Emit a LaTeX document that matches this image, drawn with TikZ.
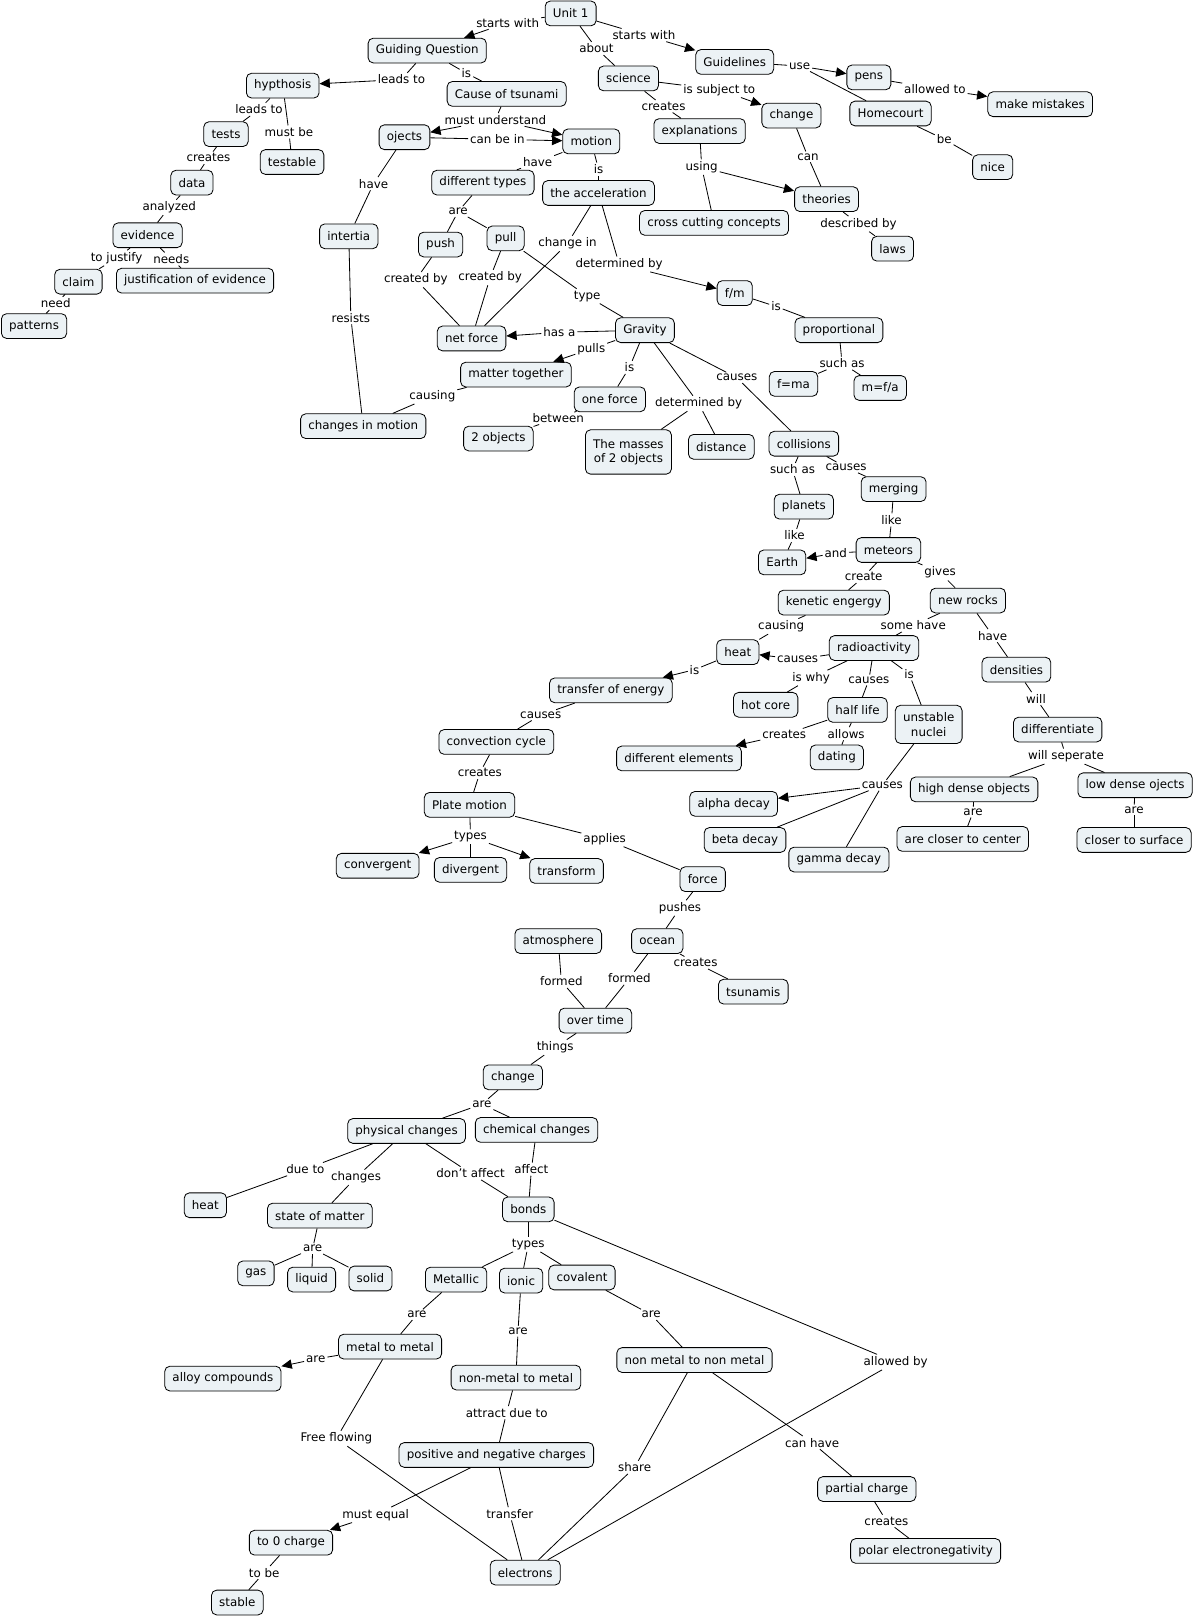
\documentclass[tikz,border=0pt]{standalone}
\usepackage{fontspec}
\setmainfont{DejaVu Sans}
\usetikzlibrary{arrows.meta}
\definecolor{cmapfill}{RGB}{236,242,245}

\begin{document}
\begin{tikzpicture}[x=1pt,y=-1pt,line width=.9pt,
  concept/.style={draw=black,line width=.8pt,fill=cmapfill,rounded corners=5pt,inner xsep=7.5pt,inner ysep=3pt,minimum height=24pt,align=center,font=\fontsize{11.5}{14}\selectfont},
  linklabel/.style={inner sep=1.5pt,font=\fontsize{11.5}{14}\selectfont},
  link/.style={line width=.8pt},
  arrowlink/.style={line width=.8pt,-{Triangle[length=10pt,width=9pt]}}]
\path[use as bounding box] (0,0) rectangle (1158,1568);
% concepts
\node[concept] (unit) at (553,13) {Unit 1};
\node[concept] (guiding) at (414,49) {Guiding Question};
\node[concept] (hyp) at (274,83) {hypthosis};
\node[concept] (tsunami) at (491,91) {Cause of tsunami};
\node[concept] (science) at (609,76) {science};
\node[concept] (guidelines) at (712,60) {Guidelines};
\node[concept] (pens) at (842,75) {pens};
\node[concept] (homecourt) at (863,110) {Homecourt};
\node[concept] (mistakes) at (1008,101) {make mistakes};
\node[concept] (change) at (767,112) {change};
\node[concept] (explan) at (678,127) {explanations};
\node[concept] (nice) at (962,162) {nice};
\node[concept] (theories) at (801,193) {theories};
\node[concept] (ccc) at (692,216) {cross cutting concepts};
\node[concept] (laws) at (865,241) {laws};
\node[concept] (tests) at (219,130) {tests};
\node[concept] (testable) at (283,157) {testable};
\node[concept] (ojects) at (392,133) {ojects};
\node[concept] (motion) at (573,137) {motion};
\node[concept] (difftypes) at (468,177) {different types};
\node[concept] (accel) at (580,187) {the acceleration};
\node[concept] (data) at (186,177) {data};
\node[concept] (evidence) at (143,228) {evidence};
\node[concept] (intertia) at (338,229) {intertia};
\node[concept] (push) at (427,237) {push};
\node[concept] (pull) at (490,231) {pull};
\node[concept] (claim) at (76,273) {claim};
\node[concept] (justif) at (189,272) {justification of evidence};
\node[concept] (patterns) at (33,316) {patterns};
\node[concept] (fm) at (712,284) {f/m};
\node[concept] (proport) at (813,320) {proportional};
\node[concept] (gravity) at (625,320) {Gravity};
\node[concept] (netforce) at (457,328) {net force};
\node[concept] (matter) at (500,363) {matter together};
\node[concept] (oneforce) at (591,387) {one force};
\node[concept] (fma) at (769,372) {f=ma};
\node[concept] (mfa) at (853,376) {m=f/a};
\node[concept] (chmotion) at (352,413) {changes in motion};
\node[concept] (twoobj) at (483,425) {2 objects};
\node[concept,minimum height=43pt] (masses) at (609,438) {The masses\\of 2 objects};
\node[concept] (distance) at (699,433) {distance};
\node[concept] (collisions) at (779,430) {collisions};
\node[concept] (merging) at (866,474) {merging};
\node[concept] (planets) at (779,491) {planets};
\node[concept] (meteors) at (861,533) {meteors};
\node[concept] (earth) at (758,545) {Earth};
\node[concept] (kenetic) at (808,584) {kenetic engergy};
\node[concept] (newrocks) at (938,582) {new rocks};
\node[concept] (heatA) at (715,632) {heat};
\node[concept] (radio) at (847,628) {radioactivity};
\node[concept] (transfer) at (592,669) {transfer of energy};
\node[concept] (densities) at (985,649) {densities};
\node[concept] (hotcore) at (742,683) {hot core};
\node[concept] (halflife) at (831,688) {half life};
\node[concept,minimum height=37pt] (unstable) at (900,702) {unstable\\nuclei};
\node[concept] (differ) at (1025,707) {differentiate};
\node[concept] (convection) at (481,719) {convection cycle};
\node[concept] (diffelem) at (658,735) {different elements};
\node[concept] (dating) at (811,734) {dating};
\node[concept] (highdense) at (944,765) {high dense objects};
\node[concept] (lowdense) at (1100,761) {low dense ojects};
\node[concept] (alpha) at (711,779) {alpha decay};
\node[concept] (plate) at (455,780) {Plate motion};
\node[concept] (beta) at (722,814) {beta decay};
\node[concept] (closecenter) at (933,813) {are closer to center};
\node[concept] (closesurf) at (1099,814) {closer to surface};
\node[concept] (gamma) at (813,833) {gamma decay};
\node[concept] (convergent) at (366,839) {convergent};
\node[concept] (divergent) at (456,843) {divergent};
\node[concept] (transform) at (549,844) {transform};
\node[concept] (force) at (681,852) {force};
\node[concept] (atmos) at (541,912) {atmosphere};
\node[concept] (ocean) at (637,912) {ocean};
\node[concept] (tsunamis) at (730,961) {tsunamis};
\node[concept] (overtime) at (577,989) {over time};
\node[concept] (changeB) at (497,1044) {change};
\node[concept] (physical) at (394,1096) {physical changes};
\node[concept] (chemical) at (520,1095) {chemical changes};
\node[concept] (heatB) at (199,1168) {heat};
\node[concept] (state) at (310,1178) {state of matter};
\node[concept] (bonds) at (512,1172) {bonds};
\node[concept] (gas) at (248,1234) {gas};
\node[concept] (liquid) at (302,1240) {liquid};
\node[concept] (solid) at (359,1239) {solid};
\node[concept] (metallic) at (442,1240) {Metallic};
\node[concept] (ionic) at (505,1241) {ionic};
\node[concept] (covalent) at (564,1238) {covalent};
\node[concept] (metalmetal) at (378,1305) {metal to metal};
\node[concept] (alloy) at (216,1336) {alloy compounds};
\node[concept] (nonmetal) at (500,1335) {non-metal to metal};
\node[concept] (nonnon) at (673,1318) {non metal to non metal};
\node[concept] (posneg) at (481,1410) {positive and negative charges};
\node[concept] (partial) at (840,1443) {partial charge};
\node[concept] (zerocharge) at (282,1495) {to 0 charge};
\node[concept] (electrons) at (509,1524) {electrons};
\node[concept] (polar) at (897,1503) {polar electronegativity};
\node[concept] (stable) at (230,1553) {stable};
% link labels
\node[linklabel] (lStartsA) at (492,22) {starts with};
\node[linklabel] (lAbout) at (578,47) {about};
\node[linklabel] (lStartsB) at (624,34) {starts with};
\node[linklabel] (lLeadsA) at (389,77) {leads to};
\node[linklabel] (lIsA) at (452,71) {is};
\node[linklabel] (lMust) at (480,116) {must understand};
\node[linklabel] (lCanbe) at (482,135) {can be in};
\node[linklabel] (lHaveA) at (521,157) {have};
\node[linklabel] (lIsB) at (580,164) {is};
\node[linklabel] (lSubject) at (697,87) {is subject to};
\node[linklabel] (lCreatesA) at (643,103) {creates};
\node[linklabel] (lUse) at (775,64) {use};
\node[linklabel] (lAllowed) at (906,86) {allowed to};
\node[linklabel] (lBe) at (915,135) {be};
\node[linklabel] (lCan) at (783,152) {can};
\node[linklabel] (lUsing) at (680,162) {using};
\node[linklabel] (lDescribed) at (832,217) {described by};
\node[linklabel] (lLeadsB) at (251,106) {leads to};
\node[linklabel] (lMustbe) at (280,128) {must be};
\node[linklabel] (lCreatesB) at (202,153) {creates};
\node[linklabel] (lAnalyzed) at (164,201) {analyzed};
\node[linklabel] (lJustify) at (113,250) {to justify};
\node[linklabel] (lNeeds) at (166,251) {needs};
\node[linklabel] (lNeed) at (54,294) {need};
\node[linklabel] (lHaveB) at (362,178) {have};
\node[linklabel] (lResists) at (340,308) {resists};
\node[linklabel] (lAreA) at (444,205) {are};
\node[linklabel] (lCreatedA) at (403,271) {created by};
\node[linklabel] (lCreatedB) at (475,269) {created by};
\node[linklabel] (lChangein) at (550,236) {change in};
\node[linklabel] (lDetA) at (600,256) {determined by};
\node[linklabel] (lType) at (569,287) {type};
\node[linklabel] (lIsC) at (752,297) {is};
\node[linklabel] (lSuchA) at (816,352) {such as};
\node[linklabel] (lHasa) at (542,322) {has a};
\node[linklabel] (lPulls) at (573,338) {pulls};
\node[linklabel] (lIsD) at (610,356) {is};
\node[linklabel] (lDetB) at (677,391) {determined by};
\node[linklabel] (lCausesA) at (714,366) {causes};
\node[linklabel] (lCausing) at (419,384) {causing};
\node[linklabel] (lBetween) at (541,405) {between};
\node[linklabel] (lSuchB) at (768,455) {such as};
\node[linklabel] (lCausesB) at (820,453) {causes};
\node[linklabel] (lLikeA) at (770,519) {like};
\node[linklabel] (lLikeB) at (864,504) {like};
\node[linklabel] (lAnd) at (810,536) {and};
\node[linklabel] (lCreate) at (837,559) {create};
\node[linklabel] (lGives) at (911,555) {gives};
\node[linklabel] (lCausingB) at (757,607) {causing};
\node[linklabel] (lSomehave) at (885,606) {some have};
\node[linklabel] (lHaveC) at (962,616) {have};
\node[linklabel] (lCausesC) at (773,639) {causes};
\node[linklabel] (lIswhy) at (786,657) {is why};
\node[linklabel] (lCausesD) at (842,659) {causes};
\node[linklabel] (lIsE) at (881,653) {is};
\node[linklabel] (lIsF) at (673,649) {is};
\node[linklabel] (lCausesE) at (524,693) {causes};
\node[linklabel] (lWill) at (1004,677) {will};
\node[linklabel] (lCreatesC) at (760,712) {creates};
\node[linklabel] (lAllows) at (820,711) {allows};
\node[linklabel] (lCausesF) at (855,761) {causes};
\node[linklabel] (lSeperate) at (1033,733) {will seperate};
\node[linklabel] (lAreB) at (943,787) {are};
\node[linklabel] (lAreC) at (1099,785) {are};
\node[linklabel] (lCreatesD) at (465,749) {creates};
\node[linklabel] (lTypesA) at (456,811) {types};
\node[linklabel] (lApplies) at (586,813) {applies};
\node[linklabel] (lPushes) at (659,880) {pushes};
\node[linklabel] (lCreatesE) at (674,933) {creates};
\node[linklabel] (lFormedA) at (610,948) {formed};
\node[linklabel] (lFormedB) at (544,951) {formed};
\node[linklabel] (lThings) at (538,1015) {things};
\node[linklabel] (lAreD) at (467,1070) {are};
\node[linklabel] (lDueto) at (296,1133) {due to};
\node[linklabel] (lChanges) at (345,1141) {changes};
\node[linklabel] (lDont) at (456,1137) {don't affect};
\node[linklabel] (lAffect) at (515,1133) {affect};
\node[linklabel] (lAreE) at (303,1210) {are};
\node[linklabel] (lTypesB) at (512,1206) {types};
\node[linklabel] (lAllowedby) at (868,1320) {allowed by};
\node[linklabel] (lAreF) at (404,1274) {are};
\node[linklabel] (lAreG) at (502,1290) {are};
\node[linklabel] (lAreH) at (631,1274) {are};
\node[linklabel] (lAreI) at (306,1317) {are};
\node[linklabel] (lFree) at (326,1394) {Free flowing};
\node[linklabel] (lAttract) at (491,1369) {attract due to};
\node[linklabel] (lShare) at (615,1422) {share};
\node[linklabel] (lCanhave) at (787,1398) {can have};
\node[linklabel] (lMustequal) at (364,1468) {must equal};
\node[linklabel] (lTransfer) at (494,1467) {transfer};
\node[linklabel] (lCreatesF) at (859,1474) {creates};
\node[linklabel] (lTobe) at (256,1524) {to be};
% connections, top part
\draw[link] (unit) -- (lStartsA); \draw[arrowlink] (lStartsA) -- (guiding);
\draw[link] (unit) -- (lAbout); \draw[link] (lAbout) -- (science);
\draw[link] (unit) -- (lStartsB); \draw[arrowlink] (lStartsB) -- (guidelines);
\draw[link] (guiding) -- (lLeadsA); \draw[arrowlink] (lLeadsA) -- (hyp);
\draw[link] (guiding) -- (lIsA); \draw[link] (lIsA) -- (tsunami);
\draw[link] (tsunami) -- (lMust); \draw[arrowlink] (lMust) -- (ojects); \draw[arrowlink] (lMust) -- (motion);
\draw[link] (ojects) -- (lCanbe); \draw[arrowlink] (lCanbe) -- (motion);
\draw[link] (motion) -- (lHaveA); \draw[link] (lHaveA) -- (difftypes);
\draw[link] (motion) -- (lIsB); \draw[link] (lIsB) -- (accel);
\draw[link] (science) -- (lSubject); \draw[arrowlink] (lSubject) -- (change);
\draw[link] (science) -- (lCreatesA); \draw[link] (lCreatesA) -- (explan);
\draw[link] (guidelines) -- (lUse); \draw[arrowlink] (lUse) -- (pens); \draw[link] (lUse) -- (homecourt);
\draw[link] (pens) -- (lAllowed); \draw[arrowlink] (lAllowed) -- (mistakes);
\draw[link] (homecourt) -- (lBe); \draw[link] (lBe) -- (nice);
\draw[link] (change) -- (lCan); \draw[link] (lCan) -- (theories);
\draw[link] (explan) -- (lUsing); \draw[arrowlink] (lUsing) -- (theories); \draw[link] (lUsing) -- (ccc);
\draw[link] (theories) -- (lDescribed); \draw[link] (lDescribed) -- (laws);
\draw[link] (hyp) -- (lLeadsB); \draw[link] (lLeadsB) -- (tests);
\draw[link] (hyp) -- (lMustbe); \draw[link] (lMustbe) -- (testable);
\draw[link] (tests) -- (lCreatesB); \draw[link] (lCreatesB) -- (data);
\draw[link] (data) -- (lAnalyzed); \draw[link] (lAnalyzed) -- (evidence);
\draw[link] (evidence) -- (lJustify); \draw[link] (lJustify) -- (claim);
\draw[link] (evidence) -- (lNeeds); \draw[link] (lNeeds) -- (justif);
\draw[link] (claim) -- (lNeed); \draw[link] (lNeed) -- (patterns);
\draw[link] (ojects) -- (lHaveB); \draw[link] (lHaveB) -- (intertia);
\draw[link] (intertia) -- (lResists); \draw[link] (lResists) -- (chmotion);
% forces and gravity
\draw[link] (difftypes) -- (lAreA); \draw[link] (lAreA) -- (push); \draw[link] (lAreA) -- (pull);
\draw[link] (push) -- (lCreatedA); \draw[link] (lCreatedA) -- (netforce);
\draw[link] (pull) -- (lCreatedB); \draw[link] (lCreatedB) -- (netforce);
\draw[link] (accel) -- (lChangein); \draw[link] (lChangein) -- (netforce);
\draw[link] (accel) -- (lDetA); \draw[arrowlink] (lDetA) -- (fm);
\draw[link] (pull) -- (lType); \draw[link] (lType) -- (gravity);
\draw[link] (fm) -- (lIsC); \draw[link] (lIsC) -- (proport);
\draw[link] (proport) -- (lSuchA); \draw[link] (lSuchA) -- (fma); \draw[link] (lSuchA) -- (mfa);
\draw[link] (gravity) -- (lHasa); \draw[arrowlink] (lHasa) -- (netforce);
\draw[link] (gravity) -- (lPulls); \draw[arrowlink] (lPulls) -- (matter);
\draw[link] (gravity) -- (lIsD); \draw[link] (lIsD) -- (oneforce);
\draw[link] (gravity) -- (lDetB); \draw[link] (lDetB) -- (masses); \draw[link] (lDetB) -- (distance);
\draw[link] (gravity) -- (lCausesA); \draw[link] (lCausesA) -- (collisions);
\draw[link] (matter) -- (lCausing); \draw[link] (lCausing) -- (chmotion);
\draw[link] (oneforce) -- (lBetween); \draw[link] (lBetween) -- (twoobj);
% collisions and earth
\draw[link] (collisions) -- (lSuchB); \draw[link] (lSuchB) -- (planets);
\draw[link] (collisions) -- (lCausesB); \draw[link] (lCausesB) -- (merging);
\draw[link] (planets) -- (lLikeA); \draw[link] (lLikeA) -- (earth);
\draw[link] (merging) -- (lLikeB); \draw[link] (lLikeB) -- (meteors);
\draw[link] (meteors) -- (lAnd); \draw[arrowlink] (lAnd) -- (earth);
\draw[link] (meteors) -- (lCreate); \draw[link] (lCreate) -- (kenetic);
\draw[link] (meteors) -- (lGives); \draw[link] (lGives) -- (newrocks);
\draw[link] (kenetic) -- (lCausingB); \draw[link] (lCausingB) -- (heatA);
\draw[link] (newrocks) -- (lSomehave); \draw[link] (lSomehave) -- (radio);
\draw[link] (newrocks) -- (lHaveC); \draw[link] (lHaveC) -- (densities);
\draw[link] (radio) -- (lCausesC); \draw[arrowlink] (lCausesC) -- (heatA);
\draw[link] (radio) -- (lIswhy); \draw[link] (lIswhy) -- (hotcore);
\draw[link] (radio) -- (lCausesD); \draw[link] (lCausesD) -- (halflife);
\draw[link] (radio) -- (lIsE); \draw[link] (lIsE) -- (unstable);
\draw[link] (heatA) -- (lIsF); \draw[arrowlink] (lIsF) -- (transfer);
\draw[link] (transfer) -- (lCausesE); \draw[link] (lCausesE) -- (convection);
\draw[link] (densities) -- (lWill); \draw[link] (lWill) -- (differ);
\draw[link] (halflife) -- (lCreatesC); \draw[arrowlink] (lCreatesC) -- (diffelem);
\draw[link] (halflife) -- (lAllows); \draw[link] (lAllows) -- (dating);
\draw[link] (unstable) -- (lCausesF); \draw[arrowlink] (lCausesF) -- (alpha); \draw[link] (lCausesF) -- (beta); \draw[link] (lCausesF) -- (gamma);
\draw[link] (differ) -- (lSeperate); \draw[link] (lSeperate) -- (highdense); \draw[link] (lSeperate) -- (lowdense);
\draw[link] (highdense) -- (lAreB); \draw[link] (lAreB) -- (closecenter);
\draw[link] (lowdense) -- (lAreC); \draw[link] (lAreC) -- (closesurf);
% plates and oceans
\draw[link] (convection) -- (lCreatesD); \draw[link] (lCreatesD) -- (plate);
\draw[link] (plate) -- (lTypesA); \draw[arrowlink] (lTypesA) -- (convergent); \draw[link] (lTypesA) -- (divergent); \draw[arrowlink] (lTypesA) -- (transform);
\draw[link] (plate) -- (lApplies); \draw[link] (lApplies) -- (force);
\draw[link] (force) -- (lPushes); \draw[link] (lPushes) -- (ocean);
\draw[link] (ocean) -- (lCreatesE); \draw[link] (lCreatesE) -- (tsunamis);
\draw[link] (ocean) -- (lFormedA); \draw[link] (lFormedA) -- (overtime);
\draw[link] (atmos) -- (lFormedB); \draw[link] (lFormedB) -- (overtime);
\draw[link] (overtime) -- (lThings); \draw[link] (lThings) -- (changeB);
% changes and bonds
\draw[link] (changeB) -- (lAreD); \draw[link] (lAreD) -- (physical); \draw[link] (lAreD) -- (chemical);
\draw[link] (physical) -- (lDueto); \draw[link] (lDueto) -- (heatB);
\draw[link] (physical) -- (lChanges); \draw[link] (lChanges) -- (state);
\draw[link] (physical) -- (lDont); \draw[link] (lDont) -- (bonds);
\draw[link] (chemical) -- (lAffect); \draw[link] (lAffect) -- (bonds);
\draw[link] (state) -- (lAreE); \draw[link] (lAreE) -- (gas); \draw[link] (lAreE) -- (liquid); \draw[link] (lAreE) -- (solid);
\draw[link] (bonds) -- (lTypesB); \draw[link] (lTypesB) -- (metallic); \draw[link] (lTypesB) -- (ionic); \draw[link] (lTypesB) -- (covalent);
\draw[link] (bonds) -- (lAllowedby); \draw[link] (lAllowedby) -- (electrons);
\draw[link] (metallic) -- (lAreF); \draw[link] (lAreF) -- (metalmetal);
\draw[link] (ionic) -- (lAreG); \draw[link] (lAreG) -- (nonmetal);
\draw[link] (covalent) -- (lAreH); \draw[link] (lAreH) -- (nonnon);
\draw[link] (metalmetal) -- (lAreI); \draw[arrowlink] (lAreI) -- (alloy);
\draw[link] (metalmetal) -- (lFree); \draw[link] (lFree) -- (electrons);
\draw[link] (nonmetal) -- (lAttract); \draw[link] (lAttract) -- (posneg);
\draw[link] (nonnon) -- (lShare); \draw[link] (lShare) -- (electrons);
\draw[link] (nonnon) -- (lCanhave); \draw[link] (lCanhave) -- (partial);
\draw[link] (posneg) -- (lMustequal); \draw[arrowlink] (lMustequal) -- (zerocharge);
\draw[link] (posneg) -- (lTransfer); \draw[link] (lTransfer) -- (electrons);
\draw[link] (partial) -- (lCreatesF); \draw[link] (lCreatesF) -- (polar);
\draw[link] (zerocharge) -- (lTobe); \draw[link] (lTobe) -- (stable);
\end{tikzpicture}
\end{document}
